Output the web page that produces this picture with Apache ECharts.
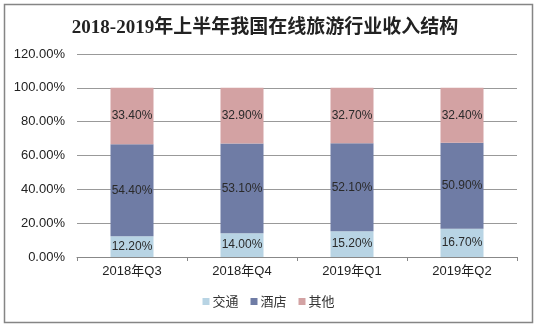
<!DOCTYPE html>
<html><head><meta charset="utf-8">
<script src="https://cdn.jsdelivr.net/npm/echarts@6/dist/echarts.min.js"></script>
<style>html,body{margin:0;padding:0;background:#fff}#c{width:537px;height:327px}</style>
</head><body><div id="c"></div>
<script>
const categories = ['2018年Q3','2018年Q4','2019年Q1','2019年Q2'];
const transport = [12.2, 14.0, 15.2, 16.7];
const hotel = [54.4, 53.1, 52.1, 50.9];
const other = [33.4, 32.9, 32.7, 32.4];
const seriesNames = ['交通','酒店','其他'];
const colors = ['#b8d4e4','#6f7ca5','#d3a2a3'];
const chart = echarts.init(document.getElementById('c'));
const lbl = {show:true, position:'inside', color:'#2a2a2a', fontSize:12, fontFamily:'Liberation Sans, Arial, sans-serif', formatter: p => p.value.toFixed(2)+'%'};
chart.setOption({
  animation:false,
  title:{text:'2018-2019年上半年我国在线旅游行业收入结构', left:260, top:14, textAlign:'center',
    textStyle:{fontSize:19, fontWeight:'bold', color:'#222', fontFamily:'Liberation Serif, Noto Sans CJK SC, serif'}},
  graphic:[{type:'rect', shape:{x:4.5,y:4.5,width:528,height:318}, style:{fill:'none', stroke:'#858585', lineWidth:1.5}}],
  legend:{bottom:14, left:'center', itemWidth:7, itemHeight:7, itemGap:12, icon:'rect',
    textStyle:{fontSize:13, color:'#333', fontFamily:'Noto Sans CJK SC, sans-serif', padding:[0,0,0,-2]},
    data:seriesNames},
  grid:{left:77, right:20, top:54, bottom:70},
  xAxis:{type:'category', data:categories,
    axisLine:{lineStyle:{color:'#888'}},
    axisTick:{show:true, length:4, lineStyle:{color:'#888'}},
    axisLabel:{color:'#222', fontSize:13, fontFamily:'Liberation Sans, Noto Sans CJK SC, sans-serif', margin:8}},
  yAxis:{type:'value', min:0, max:120, interval:20,
    axisLine:{show:false}, axisTick:{show:false},
    splitLine:{lineStyle:{color:'#999'}},
    axisLabel:{color:'#222', fontSize:13, fontFamily:'Liberation Sans, Arial, sans-serif', margin:12, formatter: v => v.toFixed(2)+'%'}},
  series:[
    {name:seriesNames[0], type:'bar', stack:'s', data:transport, barWidth:43, itemStyle:{color:colors[0]}, label:lbl},
    {name:seriesNames[1], type:'bar', stack:'s', data:hotel, barWidth:43, itemStyle:{color:colors[1]}, label:lbl},
    {name:seriesNames[2], type:'bar', stack:'s', data:other, barWidth:43, itemStyle:{color:colors[2]}, label:lbl}
  ]
});
</script></body></html>
